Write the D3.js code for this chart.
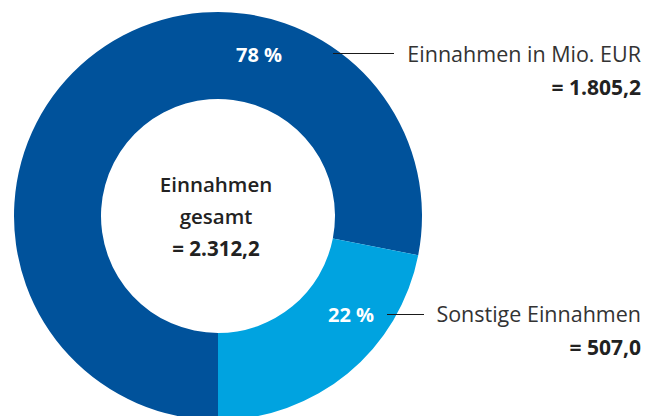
<!DOCTYPE html>
<html lang="de">
<head>
<meta charset="UTF-8" />
<title>Einnahmen</title>
<style>
  body { margin: 0; background: #fff; }
  text { font-family: "Open Sans", "Noto Sans", sans-serif; }
</style>
</head>
<body>
<svg width="646" height="416" id="mainsvg"></svg>
<script src="https://cdn.jsdelivr.net/npm/d3@7"></script>
<script>
  const svg = d3.select("#mainsvg")

  // Daten
  const labels = ["Einnahmen in Mio. EUR", "Sonstige Einnahmen"]
  const values = [1805.2, 507.0]
  const shares = ["78 %", "22 %"]
  const valueTexts = ["= 1.805,2", "= 507,0"]
  const colors = ["#00529b", "#00a3e0"]
  const centerLines = ["Einnahmen", "gesamt", "= 2.312,2"]

  const cx = 218, cy = 216
  const outerR = 204, innerR = 117

  const pie = d3.pie().sort(null).startAngle(Math.PI).endAngle(3 * Math.PI)
  const arcs = pie(values)
  const arc = d3.arc().innerRadius(innerR).outerRadius(outerR)

  const g = svg.append("g").attr("transform", `translate(${cx},${cy})`)

  g.selectAll("path")
    .data(arcs)
    .join("path")
    .attr("d", arc)
    .attr("fill", (d, i) => colors[i])

  // Prozent-Labels im Ring
  const pctPos = [[41, -154], [133, 106]]
  g.selectAll("text.pct")
    .data(arcs)
    .join("text")
    .attr("class", "pct")
    .attr("x", (d, i) => pctPos[i][0])
    .attr("y", (d, i) => pctPos[i][1])
    .attr("text-anchor", "middle")
    .attr("fill", "#fff")
    .attr("font-weight", 700)
    .attr("font-size", 20)
    .text((d, i) => shares[i])

  // Text in der Mitte
  g.selectAll("text.center")
    .data(centerLines)
    .join("text")
    .attr("class", "center")
    .attr("x", -2)
    .attr("y", (d, i) => -24 + i * 32)
    .attr("text-anchor", "middle")
    .attr("fill", "#222")
    .attr("font-weight", (d, i) => (i == 2 ? 700 : 600))
    .attr("font-size", 20.5)
    .text((d) => d)

  // Beschriftungen rechts
  const leaders = [
    { x1: 333, x2: 394, y: 53.5, ty: 62 },
    { x1: 387, x2: 424, y: 314.5, ty: 322 },
  ]
  const right = 641

  svg.selectAll("line.leader")
    .data(leaders)
    .join("line")
    .attr("class", "leader")
    .attr("x1", (d) => d.x1)
    .attr("x2", (d) => d.x2)
    .attr("y1", (d) => d.y)
    .attr("y2", (d) => d.y)
    .attr("stroke", "#1a1a1a")
    .attr("stroke-width", 1)

  svg.selectAll("text.label")
    .data(labels)
    .join("text")
    .attr("class", "label")
    .attr("x", right)
    .attr("y", (d, i) => leaders[i].ty)
    .attr("text-anchor", "end")
    .attr("fill", "#333")
    .attr("font-size", 21.5)
    .text((d) => d)

  svg.selectAll("text.value")
    .data(valueTexts)
    .join("text")
    .attr("class", "value")
    .attr("x", right)
    .attr("y", (d, i) => leaders[i].ty + 33)
    .attr("text-anchor", "end")
    .attr("fill", "#222")
    .attr("font-weight", 700)
    .attr("font-size", 21)
    .text((d) => d)
</script>
</body>
</html>
